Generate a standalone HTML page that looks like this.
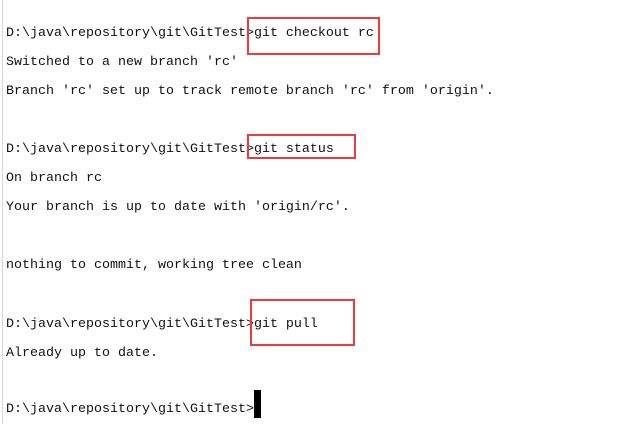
<!DOCTYPE html>
<html><head><style>
body{margin:0;width:626px;height:424px;background:#fff;position:relative;overflow:hidden}
.bl{position:absolute;left:2px;top:0;width:1px;height:424px;background:#d8d8d8}
.t{position:absolute;left:6px;font-family:"Liberation Mono","Noto Sans CJK SC",monospace;font-size:13.33px;line-height:20px;color:#111;white-space:pre}
.b{position:absolute;border:2px solid #ee3a3a;box-sizing:border-box}
.c{position:absolute;left:254px;top:390px;width:7px;height:28px;background:#000}
</style></head><body>
<div class="bl"></div>
<div class="t" style="top:24px">D:\java\repository\git\GitTest&gt;git checkout rc</div>
<div class="t" style="top:53px">Switched to a new branch 'rc'</div>
<div class="t" style="top:82px">Branch 'rc' set up to track remote branch 'rc' from 'origin'.</div>
<div class="t" style="top:140px">D:\java\repository\git\GitTest&gt;git status</div>
<div class="t" style="top:169px">On branch rc</div>
<div class="t" style="top:198px">Your branch is up to date with 'origin/rc'.</div>
<div class="t" style="top:256px">nothing to commit, working tree clean</div>
<div class="t" style="top:315px">D:\java\repository\git\GitTest&gt;git pull</div>
<div class="t" style="top:344px">Already up to date.</div>
<div class="t" style="top:400px">D:\java\repository\git\GitTest&gt;</div>
<div class="b" style="left:247px;top:17px;width:133px;height:38px"></div>
<div class="b" style="left:247px;top:134px;width:109px;height:25px"></div>
<div class="b" style="left:250px;top:299px;width:105px;height:47px"></div>
<div class="c"></div>
</body></html>
